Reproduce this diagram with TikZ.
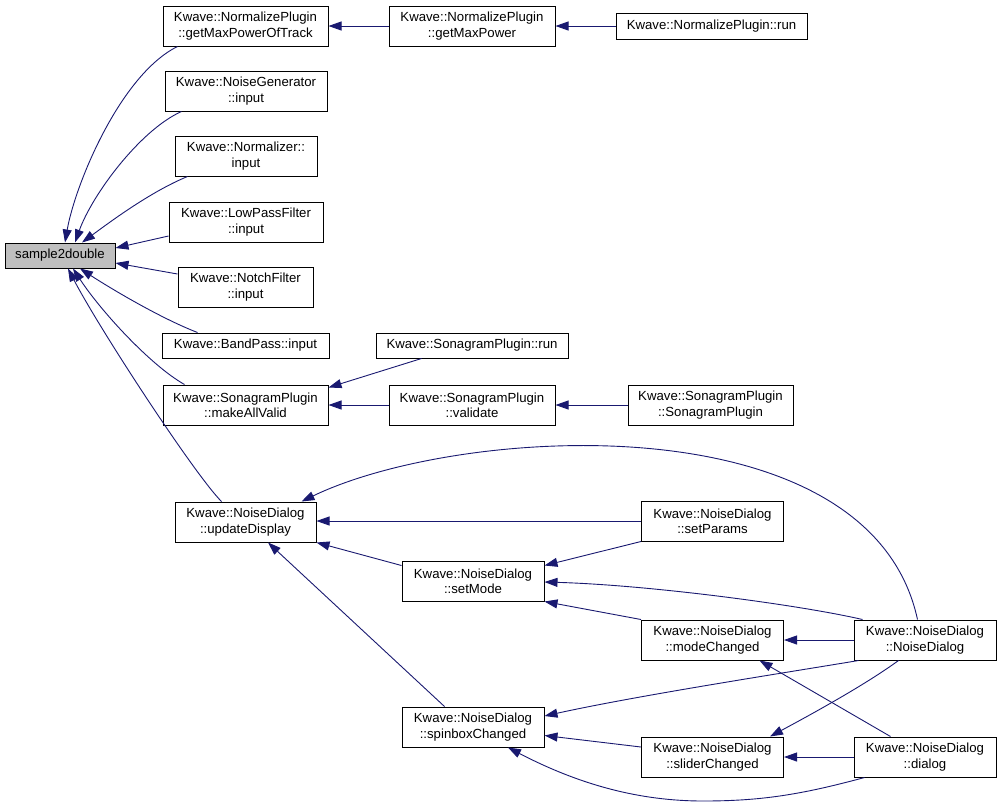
\documentclass[tikz,border=0pt]{standalone}
\usepackage{fontspec}
\setmainfont{Liberation Sans}
\usetikzlibrary{arrows.meta,calc}
\definecolor{edgeblue}{HTML}{191970}
\definecolor{hlgray}{HTML}{BFBFBF}
\begin{document}
\begin{tikzpicture}[x=1pt,y=-1pt,
  box/.style={draw=black,line width=1pt,fill=white,inner sep=0pt,align=center,
    minimum height=40pt,font=\fontsize{13.2}{15.4}\selectfont},
  edg/.style={draw=edgeblue,line width=0.9pt,-{Triangle[length=13pt,width=9pt]}}]
\useasboundingbox (0,0) rectangle (1001,807);
% nodes
\node[box,fill=hlgray,minimum width=110pt,minimum height=25pt] (s2d) at (60,255.5) {sample2double};
\node[box,minimum width=165pt] (gmpot) at (245.5,26) {Kwave::NormalizePlugin\\::getMaxPowerOfTrack};
\node[box,minimum width=162pt] (ng) at (246,91) {Kwave::NoiseGenerator\\::input};
\node[box,minimum width=142pt] (nrm) at (246,156) {Kwave::Normalizer::\\input};
\node[box,minimum width=154pt] (lpf) at (246,222) {Kwave::LowPassFilter\\::input};
\node[box,minimum width=135pt] (nf) at (245.5,287) {Kwave::NotchFilter\\::input};
\node[box,minimum width=167pt,minimum height=25pt] (bp) at (245.5,345.5) {Kwave::BandPass::input};
\node[box,minimum width=165pt] (mav) at (245.5,405) {Kwave::SonagramPlugin\\::makeAllValid};
\node[box,minimum width=141pt] (ud) at (245.5,522) {Kwave::NoiseDialog\\::updateDisplay};
\node[box,minimum width=166pt] (gmp) at (472,26) {Kwave::NormalizePlugin\\::getMaxPower};
\node[box,minimum width=191pt,minimum height=26pt] (nprun) at (711.5,26) {Kwave::NormalizePlugin::run};
\node[box,minimum width=192pt,minimum height=25pt] (sprun) at (472,345.5) {Kwave::SonagramPlugin::run};
\node[box,minimum width=166pt] (val) at (472,405) {Kwave::SonagramPlugin\\::validate};
\node[box,minimum width=165pt] (spsp) at (710.5,405) {Kwave::SonagramPlugin\\::SonagramPlugin};
\node[box,minimum width=142pt] (sp) at (712.5,521) {Kwave::NoiseDialog\\::setParams};
\node[box,minimum width=142pt] (sm) at (473,581) {Kwave::NoiseDialog\\::setMode};
\node[box,minimum width=142pt] (mc) at (712.5,640) {Kwave::NoiseDialog\\::modeChanged};
\node[box,minimum width=142pt] (ndnd) at (925,640) {Kwave::NoiseDialog\\::NoiseDialog};
\node[box,minimum width=142pt] (sbc) at (473,727) {Kwave::NoiseDialog\\::spinboxChanged};
\node[box,minimum width=142pt] (slc) at (712.5,757) {Kwave::NoiseDialog\\::sliderChanged};
\node[box,minimum width=142pt] (dlg) at (925,757) {Kwave::NoiseDialog\\::dialog};
% edges
\draw[edg] ($(gmpot.south west)+(15,0)$) .. controls (120,75) and (75,185) .. ($(s2d.north)+(5,0)$);
\draw[edg] ($(ng.south west)+(17,0)$) .. controls (140,130) and (92,195) .. ($(s2d.north)+(15,0)$);
\draw[edg] ($(nrm.south west)+(13,0)$) .. controls (150,192) and (110,222) .. ($(s2d.north)+(22,0)$);
\draw[edg] ($(lpf.west)+(0,14)$) -- ($(s2d.east)+(0,-7.5)$);
\draw[edg] ($(nf.west)+(0,-13)$) -- ($(s2d.east)+(0,7.5)$);
\draw[edg] ($(bp.north west)+(36,0)$) .. controls (160,318) and (110,288) .. ($(s2d.south)+(20,0)$);
\draw[edg] ($(mav.north west)+(22,0)$) .. controls (150,365) and (100,310) .. ($(s2d.south)+(13,0)$);
\draw[edg] ($(ud.north west)+(47,0)$) .. controls (195,475) and (100,330) .. ($(s2d.south)+(8,0)$);
\draw[edg] (gmp) -- (gmpot);
\draw[edg] (nprun) -- (gmp);
\draw[edg] ($(sprun.south west)+(46,0)$) -- ($(mav.north east)+(0,3)$);
\draw[edg] (val) -- (mav);
\draw[edg] (spsp) -- (val);
\draw[edg] (sp.west) -- (sp.west -| ud.east);
\draw[edg] ($(ndnd.north west)+(64,0)$) .. controls (870,400) and (460,425) .. ($(ud.north east)+(-15,0)$);
\draw[edg] ($(sm.north west)+(0,5)$) -- (ud.south east);
\draw[edg] ($(sbc.north west)+(43,0)$) -- ($(ud.south)+(22.5,0)$);
\draw[edg] (sp.south west) -- ($(sm.north east)+(0,5)$);
\draw[edg] ($(ndnd.north west)+(9,0)$) .. controls (800,605) and (650,585) .. ($(sm.east)+(0,1)$);
\draw[edg] (mc.north west) -- (sm.south east);
\draw[edg] (ndnd) -- (mc);
\draw[edg] ($(dlg.north west)+(37,0)$) -- ($(mc.south)+(47,0)$);
\draw[edg] ($(ndnd.south west)+(5,0)$) .. controls (790,672) and (640,695) .. ($(sbc.east)+(0,-11)$);
\draw[edg] ($(ndnd.south west)+(45,0)$) .. controls (865,685) and (810,715) .. ($(slc.north east)+(-14,0)$);
\draw[edg] ($(slc.west)+(0,-10)$) -- ($(sbc.south east)+(0,-12)$);
\draw[edg] (dlg) -- (slc);
\draw[edg] ($(dlg.south west)+(11,0)$) .. controls (800,795) and (760,801) .. (703,801) .. controls (640,801) and (580,785) .. ($(sbc.south)+(35,0)$);
\end{tikzpicture}
\end{document}
